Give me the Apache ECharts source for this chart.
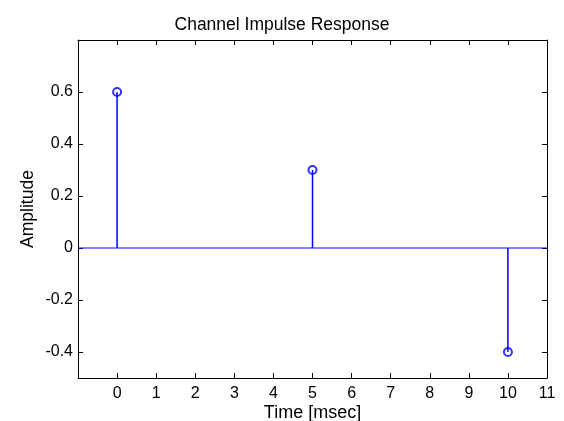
<!DOCTYPE html>
<html><head><meta charset="utf-8">
<script src="https://cdn.jsdelivr.net/npm/echarts@6/dist/echarts.min.js"></script>
<style>html,body{margin:0;padding:0;background:#fff}#c{width:564px;height:421px}</style>
</head><body><div id="c"></div>
<script>
const times = [0, 5, 10];
const amplitudes = [0.6, 0.3, -0.4];
const xTicks = [0,1,2,3,4,5,6,7,8,9,10,11];
const yTicks = [-0.4,-0.2,0,0.2,0.4,0.6];
const xRange = [-1, 11];
const yRange = [-0.5, 0.8];

const stems = [];
times.forEach((t,i)=>{ stems.push([t,0]); stems.push([t,amplitudes[i]]); stems.push('-'); });
const points = times.map((t,i)=>[t,amplitudes[i]]);
const FONT = 'Liberation Sans';
const axisCommon = {
  axisLine:{show:true,onZero:false,lineStyle:{color:'#000',width:1}},
  splitLine:{show:false},
  axisTick:{show:true,inside:true,length:5,lineStyle:{color:'#000'}},
};
const chart = echarts.init(document.getElementById('c'));
chart.setOption({
  animation:false,
  title:{text:'Channel Impulse Response',left:'center',top:11,textStyle:{fontFamily:FONT,fontSize:17.5,fontWeight:'normal',color:'#000'}},
  grid:{left:78,right:17,top:40,bottom:43,containLabel:false,outerBoundsMode:'none'},
  xAxis:[
    Object.assign({type:'value',min:xRange[0],max:xRange[1],position:'bottom',
      name:'Time [msec]',nameLocation:'middle',nameGap:26.5,nameMoveOverlap:false,nameTextStyle:{fontFamily:FONT,fontSize:18,color:'#000'},
      axisLabel:{customValues:xTicks,fontFamily:FONT,fontSize:16,color:'#000',margin:8},
    },axisCommon,{axisTick:Object.assign({},axisCommon.axisTick,{customValues:xTicks.slice(0,-1)})}),
    Object.assign({type:'value',min:xRange[0],max:xRange[1],position:'top',axisLabel:{show:false}},axisCommon,
      {axisTick:Object.assign({},axisCommon.axisTick,{customValues:xTicks.slice(0,-1)})})
  ],
  yAxis:[
    Object.assign({type:'value',min:yRange[0],max:yRange[1],position:'left',
      name:'Amplitude',nameLocation:'middle',nameGap:41,nameMoveOverlap:false,nameRotate:90,nameTextStyle:{fontFamily:FONT,fontSize:17.5,color:'#000'},
      axisLabel:{customValues:yTicks,fontFamily:FONT,fontSize:16,color:'#000',margin:5,formatter:v=>String(Math.round(v*10)/10)},
    },axisCommon,{axisTick:Object.assign({},axisCommon.axisTick,{customValues:yTicks})}),
    Object.assign({type:'value',min:yRange[0],max:yRange[1],position:'right',axisLabel:{show:false}},axisCommon,
      {axisTick:Object.assign({},axisCommon.axisTick,{customValues:yTicks})})
  ],
  series:[
    {type:'line',data:[[xRange[0],0],[xRange[1],0]],symbol:'none',lineStyle:{color:'#0000ff',width:1},silent:true},
    {type:'line',data:stems,symbol:'none',connectNulls:false,lineStyle:{color:'#0000ff',width:1.5},silent:true},
    {type:'scatter',data:points,symbol:'emptyCircle',symbolSize:8,itemStyle:{color:'#0000ff',borderColor:'#0000ff',borderWidth:1},silent:true}
  ]
});
</script></body></html>
